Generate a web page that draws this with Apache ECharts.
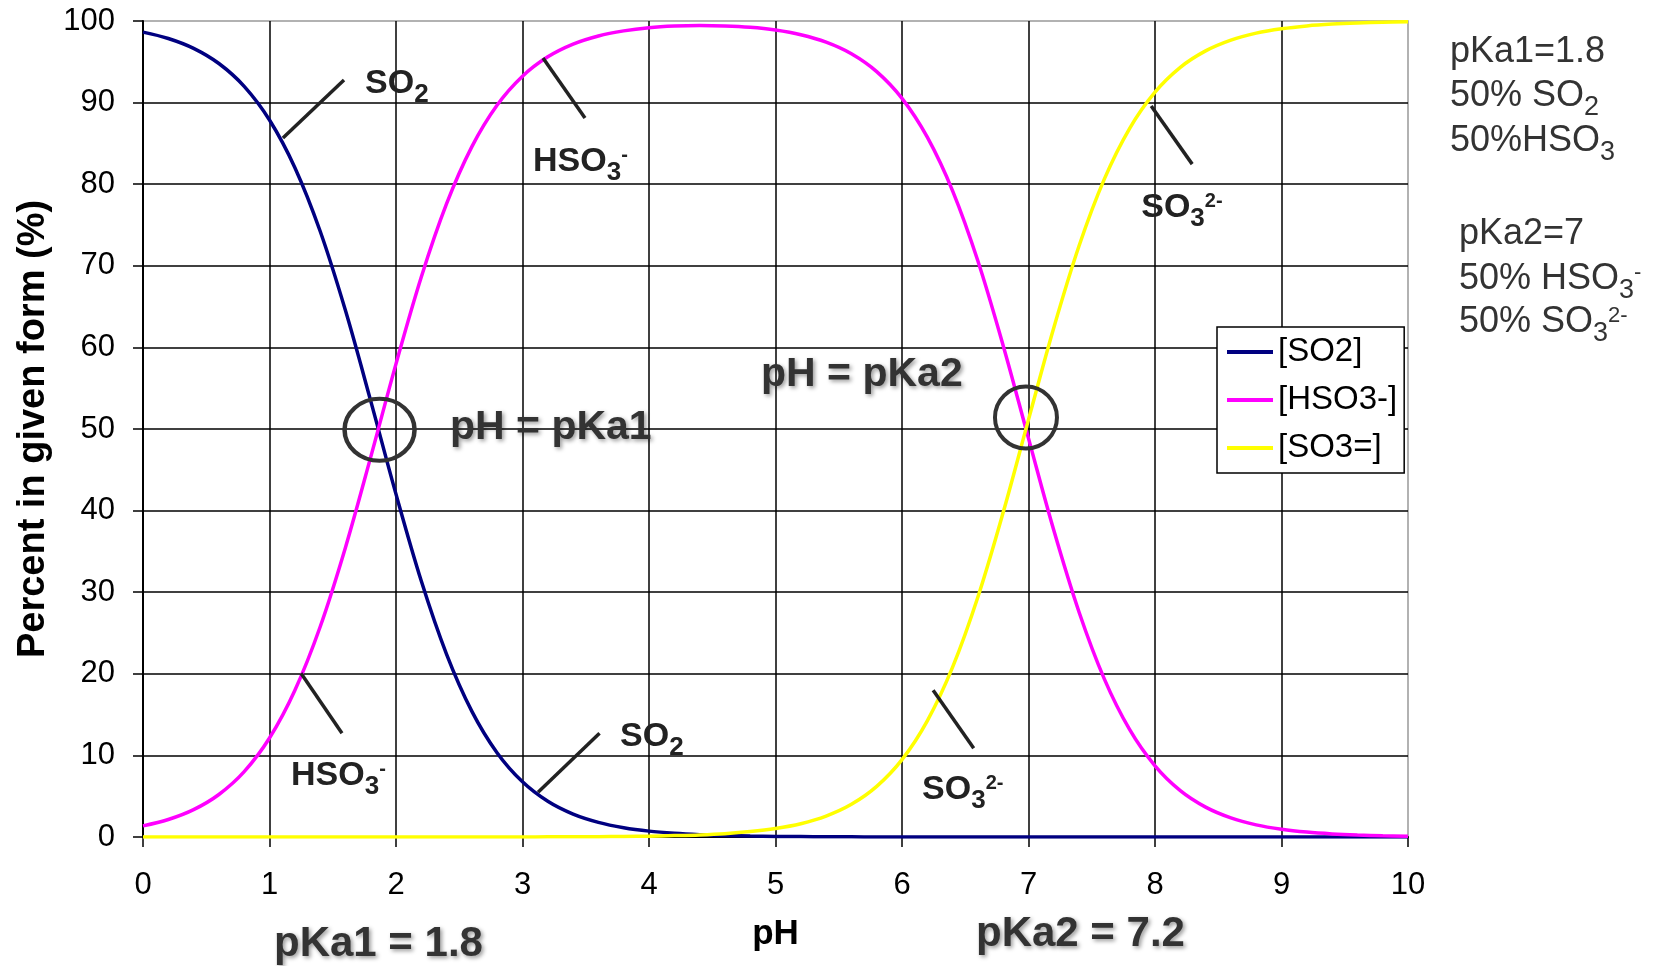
<!DOCTYPE html>
<html>
<head>
<meta charset="utf-8">
<script src="https://cdn.jsdelivr.net/npm/echarts@6/dist/echarts.min.js"></script>
<style>
html,body{margin:0;padding:0;background:#fff;}
#main{width:1653px;height:966px;}
</style>
</head>
<body>
<div id="main"></div>
<script>
// ---------------- DATA ----------------
const pH = [0,0.2,0.4,0.6,0.8,1.0,1.2,1.4,1.6,1.8,2.0,2.2,2.4,2.6,2.8,3.0,3.2,3.4,3.6,3.8,4.0,4.2,4.4,4.6,4.8,5.0,5.2,5.4,5.6,5.8,6.0,6.2,6.4,6.6,6.8,7.0,7.2,7.4,7.6,7.8,8.0,8.2,8.4,8.6,8.8,9.0,9.2,9.4,9.6,9.8,10.0];
const seriesNames = ['[SO2]', '[HSO3-]', '[SO3=]'];
const so2 = [98.64,97.86,96.65,94.79,91.99,87.87,82.05,74.26,64.54,53.45,42.02,31.37,22.39,15.40,10.30,6.76,4.37,2.80,1.79,1.14,0.72,0.46,0.29,0.18,0.11,0.07,0.05,0.03,0.02,0.01,0.01,0,0,0,0,0,0,0,0,0,0,0,0,0,0,0,0,0,0,0,0];
const hso3 = [1.36,2.14,3.35,5.21,8.01,12.13,17.95,25.74,35.46,46.55,57.98,68.63,77.61,84.60,89.70,93.23,95.61,97.17,98.17,98.79,99.18,99.38,99.45,99.40,99.23,98.89,98.32,97.41,95.99,93.80,90.52,85.76,79.18,70.58,60.21,48.85,37.59,27.55,19.35,13.15,8.72,5.68,3.66,2.34,1.49,0.95,0.60,0.38,0.24,0.15,0.10];
const so3 = [0,0,0,0,0,0,0,0,0,0,0,0,0,0,0,0.01,0.02,0.03,0.04,0.07,0.10,0.17,0.26,0.41,0.66,1.04,1.63,2.56,4.00,6.20,9.48,14.24,20.82,29.42,39.79,51.15,62.41,72.45,80.65,86.85,91.28,94.32,96.34,97.66,98.51,99.05,99.40,99.62,99.76,99.85,99.90];
const xAxisRange = [0, 10, 1];   // min, max, interval
const yAxisRange = [0, 100, 10];
const xAxisTitle = 'pH';
const yAxisTitle = 'Percent in given form (%)';

// ---------------- ANNOTATIONS (in data coordinates) ----------------
const leaderLines = [
  [[1.589, 92.77], [1.106, 85.66]],
  [[3.162, 95.47], [3.494, 88.11]],
  [[7.970, 89.57], [8.294, 82.46]],
  [[1.249, 20.07], [1.573, 12.71]],
  [[3.609, 12.71], [3.123, 5.48]],
  [[6.246, 17.98], [6.567, 10.87]]
];
const circleCenters = [[1.87, 49.9], [6.98, 51.4]];
const plotLabelTexts = [
  ['{m|SO}{s|2}', [1.755, 91.05]],
  ['{m|HSO}{s|3}{p|-}', [3.083, 81.49]],
  ['{m|SO}{s|3}{p|2-}', [7.891, 75.85]],
  ['{m|HSO}{s|3}{p|-}', [1.170, 6.22]],
  ['{m|SO}{s|2}', [3.771, 11.0]],
  ['{m|SO}{s|3}{p|2-}', [6.159, 4.5]]
];
const equalityTexts = [
  ['{m|pH = pKa1}', [2.427, 48.64]],
  ['{m|pH = pKa2}', [4.886, 55.13]]
];
const pageTexts = [
  ['{m|pKa1 = 1.8}', 274, 957, 'big'],
  ['{m|pKa2 = 7.2}', 976, 947, 'big'],
  ['{m|pKa1=1.8}', 1450, 63, 'note'],
  ['{m|50% SO}{s|2}', 1450, 107, 'note'],
  ['{m|50%HSO}{s|3}', 1450, 152, 'note'],
  ['{m|pKa2=7}', 1459, 245, 'note'],
  ['{m|50% HSO}{s|3}{p|-}', 1459, 290, 'note'],
  ['{m|50% SO}{s|3}{p|2-}', 1459, 333, 'note']
];

// ---------------- STYLE ----------------
const FONT = '"Liberation Sans", Arial, Helvetica, sans-serif';
const COLORS = ['#000080', '#FF00FF', '#FFFF00'];

function toPairs(xs, ys) { return xs.map((x, i) => [x, ys[i]]); }

const chart = echarts.init(document.getElementById('main'), null, {renderer: 'canvas'});

const option = {
  animation: false,
  backgroundColor: '#ffffff',
  textStyle: {fontFamily: FONT},
  grid: {
    left: 143, right: 245, top: 21, bottom: 129,
    show: true, borderColor: '#999999', borderWidth: 1.5,
    backgroundColor: 'transparent',
    containLabel: false, outerBoundsMode: 'none'
  },
  legend: {
    orient: 'vertical', left: 1217, top: 327,
    backgroundColor: '#ffffff', borderColor: '#000000', borderWidth: 1.5, borderRadius: 0,
    padding: [8, 7, 8, 10],
    itemWidth: 46, itemHeight: 4, itemGap: 14,
    icon: 'rect',
    textStyle: {fontSize: 33, color: '#000', fontFamily: FONT, lineHeight: 34},
    data: seriesNames,
    selectedMode: false
  },
  xAxis: {
    type: 'value', min: xAxisRange[0], max: xAxisRange[1], interval: xAxisRange[2],
    name: xAxisTitle, nameLocation: 'middle', nameGap: 80,
    nameTextStyle: {fontSize: 35, fontWeight: 'bold', color: '#000', fontFamily: FONT},
    axisLine: {show: true, onZero: false, lineStyle: {color: '#000', width: 2}},
    axisTick: {show: true, inside: false, length: 10, lineStyle: {color: '#000', width: 1.5}},
    axisLabel: {fontSize: 31, color: '#000', margin: 33, fontFamily: FONT},
    splitLine: {show: true, showMaxLine: false, lineStyle: {color: '#000', width: 1.5}}
  },
  yAxis: {
    type: 'value', min: yAxisRange[0], max: yAxisRange[1], interval: yAxisRange[2],
    name: yAxisTitle, nameLocation: 'middle', nameGap: 86, nameRotate: 90,
    nameTextStyle: {fontSize: 38, fontWeight: 'bold', color: '#000', fontFamily: FONT},
    axisLine: {show: true, onZero: false, lineStyle: {color: '#000', width: 2}},
    axisTick: {show: true, inside: false, length: 10, lineStyle: {color: '#000', width: 1.5}},
    axisLabel: {fontSize: 31, color: '#000', margin: 28, fontFamily: FONT},
    splitLine: {show: true, showMaxLine: false, lineStyle: {color: '#000', width: 1.5}}
  },
  series: [so2, hso3, so3].map((ys, i) => ({
    name: seriesNames[i],
    type: 'line',
    data: toPairs(pH, ys),
    showSymbol: false, symbol: 'none',
    smooth: 0.35,
    lineStyle: {color: COLORS[i], width: 3.5},
    itemStyle: {color: COLORS[i]},
    z: 3 + i
  }))
};
chart.setOption(option);

// ---------------- annotations via graphic ----------------
// all rich tokens are top-aligned; the sub/superscript offset comes from top padding
function richFor(fs, weight, color, shadow) {
  const base = {fontFamily: FONT, fontWeight: weight, fill: color, verticalAlign: 'top'};
  if (shadow) {
    Object.assign(base, {textShadowColor: 'rgba(0,0,0,0.4)', textShadowBlur: 4, textShadowOffsetX: 2, textShadowOffsetY: 2});
  }
  return {
    m: Object.assign({}, base, {fontSize: fs, padding: [0, 0, 0, 0]}),
    s: Object.assign({}, base, {fontSize: Math.round(0.76 * fs), padding: [Math.round(0.45 * fs), 0, 0, 0]}),
    p: Object.assign({}, base, {fontSize: Math.round(0.6 * fs), padding: [Math.round(0.04 * fs), 0, 0, 0]})
  };
}
function textEl(text, x, baseline, fs, weight, color, shadow) {
  return {
    type: 'text', x: x, y: baseline - 0.81 * fs, z: 100,
    style: {text: text, rich: richFor(fs, weight, color, shadow), align: 'left', verticalAlign: 'top', fontFamily: FONT}
  };
}
const P = (d) => chart.convertToPixel({gridIndex: 0}, d);
const elements = [];
leaderLines.forEach(([a, b]) => {
  const pa = P(a), pb = P(b);
  elements.push({type: 'line', z: 100, shape: {x1: pa[0], y1: pa[1], x2: pb[0], y2: pb[1]}, style: {stroke: '#222', lineWidth: 3.5}});
});
const circleRadii = [[35, 31], [31, 31]];
circleCenters.forEach((c, i) => {
  const pc = P(c);
  elements.push({type: 'circle', z: 100, x: pc[0], y: pc[1], scaleX: circleRadii[i][0] / circleRadii[i][1],
    shape: {cx: 0, cy: 0, r: circleRadii[i][1]}, style: {fill: 'none', stroke: '#333', lineWidth: 4, strokeNoScale: true}});
});
plotLabelTexts.forEach(([t, d]) => {
  const p = P(d);
  elements.push(textEl(t, p[0], p[1], 34, 'bold', '#222', false));
});
equalityTexts.forEach(([t, d]) => {
  const p = P(d);
  elements.push(textEl(t, p[0], p[1], 41, 'bold', '#333', true));
});
pageTexts.forEach(([t, x, y, kind]) => {
  if (kind === 'big') elements.push(textEl(t, x, y, 42, 'bold', '#333', true));
  else elements.push(textEl(t, x, y, 36, 'normal', '#333', false));
});
chart.setOption({graphic: {elements: elements}});
</script>
</body>
</html>
